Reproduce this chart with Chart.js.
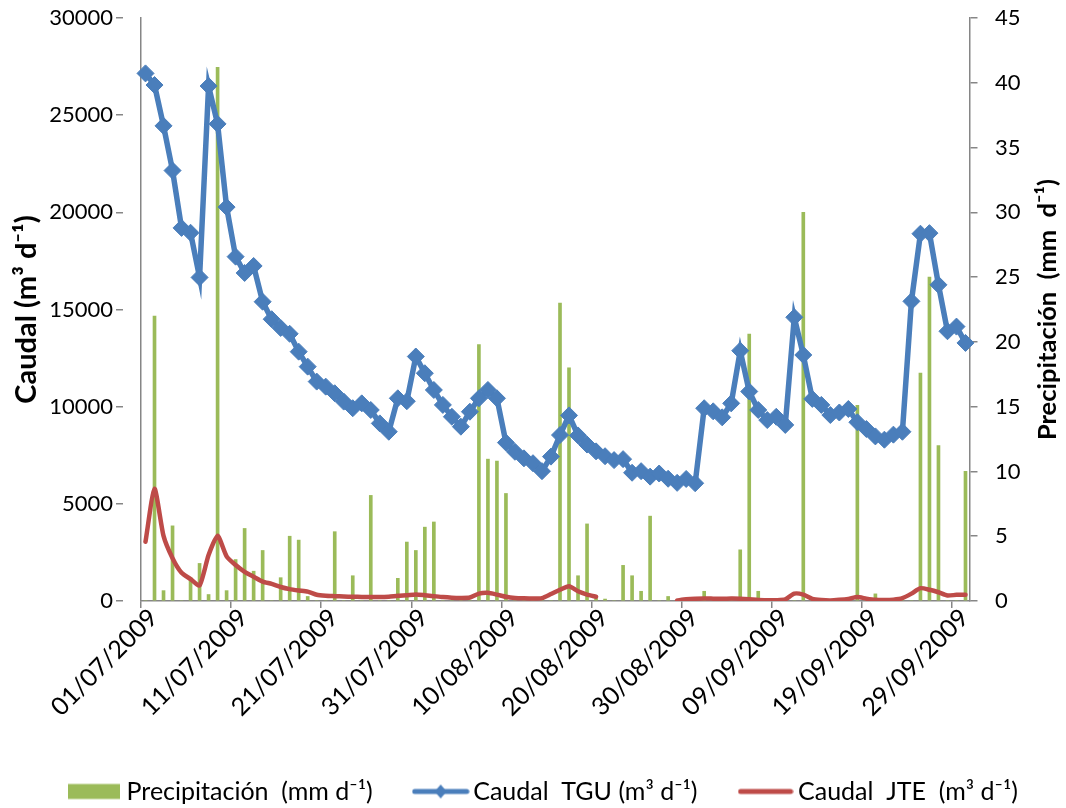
<!DOCTYPE html>
<html>
<head>
<meta charset="utf-8">
<script src="https://cdn.jsdelivr.net/npm/chart.js@4/dist/chart.umd.min.js"></script>
<style>
  html, body { margin: 0; padding: 0; background: #fff; }
  #wrap { width: 1066px; height: 808px; overflow: hidden; }
</style>
</head>
<body>
<div id="wrap"><canvas id="chart" width="1066" height="808"></canvas></div>
<script>
// Daily series, 01/07/2009 .. 30/09/2009
const firstDay = new Date(2009, 6, 1);
const lastDay = new Date(2009, 8, 30);
const days = [];
for (let d = new Date(firstDay); d <= lastDay; d.setDate(d.getDate() + 1)) {
  const dd = String(d.getDate()).padStart(2, '0');
  const mm = String(d.getMonth() + 1).padStart(2, '0');
  days.push(dd + '/' + mm + '/' + d.getFullYear());
}

// Dates that carry a label on the time axis
const xTickLabels = ['01/07/2009', '11/07/2009', '21/07/2009', '31/07/2009', '10/08/2009',
  '20/08/2009', '30/08/2009', '09/09/2009', '19/09/2009', '29/09/2009'];

// Precipitación (mm d-1)
const precipitacion = [
  0, 22.0, 0.8, 5.8, 0, 1.8, 2.9, 0.5, 41.2, 0.8,
  3.2, 5.6, 2.3, 3.9, 0, 1.8, 5.0, 4.7, 0.35, 0,
  0, 5.35, 0, 1.95, 0, 8.15, 0, 0, 1.75, 4.55,
  3.9, 5.7, 6.1, 0, 0, 0, 0, 19.8, 10.95, 10.8,
  8.3, 0, 0, 0, 0, 0, 23.0, 18.0, 1.95, 5.95,
  0.2, 0.15, 0, 2.75, 1.95, 0.75, 6.55, 0, 0.35, 0,
  0, 0, 0.75, 0, 0, 0, 3.95, 20.6, 0.75, 0,
  0, 0, 0, 30.0, 0, 0, 0, 0, 0, 15.1,
  0, 0.55, 0, 0, 0, 0, 17.6, 25.0, 12.0, 0,
  0, 10.0
];

// Caudal TGU (m3 d-1)
const caudalTGU = [
  27150, 26550, 24450, 22150, 19200, 18950, 16650, 26500, 24550, 20270,
  17720, 16880, 17240, 15400, 14500, 14050, 13750, 12830, 12060, 11290,
  11030, 10690, 10260, 9920, 10170, 9830, 9140, 8710, 10430, 10280,
  12580, 11720, 10860, 10090, 9480, 8970, 9740, 10430, 10860, 10430,
  8150, 7680, 7340, 7090, 6680, 7430, 8540, 9550, 8520, 8050,
  7700, 7450, 7250, 7300, 6600, 6680, 6400, 6560, 6290, 6080,
  6280, 6060, 9920, 9760, 9450, 10170, 12880, 10780, 9830, 9310,
  9480, 9060, 14600, 12660, 10400, 10090, 9570, 9700, 9880, 9200,
  8850, 8470, 8300, 8560, 8710, 15420, 18900, 18930, 16270, 13880,
  14120, 13280
];

// Caudal JTE (m3 d-1); null = no record
const caudalJTE = [
  3050, 5780, 3350, 2200, 1450, 1130, 800, 2370, 3360, 2300,
  1850, 1500, 1250, 1000, 880, 720, 610, 540, 480, 320,
  270, 250, 230, 220, 210, 210, 200, 220, 270, 300,
  340, 300, 250, 200, 170, 160, 180, 380, 420, 330,
  220, 160, 140, 130, 150, 360, 580, 760, 500, 330,
  220, null, null, null, null, null, null, null, null, 30,
  90, 120, 130, 120, 110, 130, 120, 90, 50, 40,
  40, 80, 380, 330, 110, 50, 30, 60, 110, 200,
  120, 60, 50, 70, 150, 380, 660, 580, 450, 280,
  320, 320
];

const seriesNames = ['Precipitación  (mm d⁻¹)', 'Caudal  TGU (m³ d⁻¹)', 'Caudal  JTE  (m³ d⁻¹)'];
const leftTitle = 'Caudal (m³ d⁻¹)';
const rightTitle = 'Precipitación  (mm  d⁻¹)';

const GREEN = '#9BBB59';
const BLUE = '#4A7EBB';
const RED = '#BE4B48';
const GREY = '#868686';
const FONT = 'Lato';

Chart.defaults.font.family = FONT;
Chart.defaults.color = '#000';

// Small legend swatches drawn like the series they stand for
function swatch(w, h, paint) {
  const c = document.createElement('canvas');
  c.width = w; c.height = h;
  paint(c.getContext('2d'), w, h);
  return c;
}
const swatchBar = swatch(52, 22, (g, w, h) => {
  g.fillStyle = GREEN;
  g.fillRect(0, (h - 15) / 2, w, 15);
});
const swatchTGU = swatch(58, 22, (g, w, h) => {
  g.strokeStyle = BLUE; g.lineWidth = 5; g.lineCap = 'round';
  g.beginPath(); g.moveTo(3, h / 2); g.lineTo(w - 3, h / 2); g.stroke();
  g.fillStyle = BLUE;
  g.beginPath();
  g.moveTo(w / 2, h / 2 - 7); g.lineTo(w / 2 + 6, h / 2); g.lineTo(w / 2, h / 2 + 7); g.lineTo(w / 2 - 6, h / 2);
  g.closePath(); g.fill();
});
const swatchJTE = swatch(56, 22, (g, w, h) => {
  g.strokeStyle = RED; g.lineWidth = 5; g.lineCap = 'round';
  g.beginPath(); g.moveTo(3, h / 2); g.lineTo(w - 3, h / 2); g.stroke();
});
const swatches = [swatchBar, swatchTGU, swatchJTE];

// Axis titles, both reading bottom to top
const axisTitles = {
  id: 'axisTitles',
  afterDraw(chart) {
    const { ctx, chartArea } = chart;
    const cy = (chartArea.top + chartArea.bottom) / 2;
    [[27, leftTitle, 29], [1048, rightTitle, 25.5]].forEach(([x, text, size]) => {
      ctx.save();
      ctx.font = 'bold ' + size + 'px ' + FONT;
      ctx.fillStyle = '#000';
      ctx.textAlign = 'center';
      ctx.textBaseline = 'middle';
      ctx.translate(x, cy);
      ctx.rotate(-Math.PI / 2);
      ctx.fillText(text, 0, 0);
      ctx.restore();
    });
  }
};

// Value-axis tick marks: a short visible dash next to the axis line,
// the rest of the tick length only spaces the labels away
const valueAxisGrid = {
  drawOnChartArea: false,
  drawTicks: true,
  tickLength: 25,
  tickBorderDash: [7, 60],
  color: GREY,
  lineWidth: 1.5
};

new Chart(document.getElementById('chart'), {
  type: 'bar',
  data: {
    labels: days,
    datasets: [
      {
        type: 'bar',
        label: seriesNames[0],
        data: precipitacion,
        yAxisID: 'y1',
        backgroundColor: GREEN,
        barThickness: 3,
        order: 3
      },
      {
        type: 'line',
        label: seriesNames[1],
        data: caudalTGU,
        yAxisID: 'y',
        borderColor: BLUE,
        borderWidth: 5.5,
        pointStyle: 'rectRot',
        pointRadius: 8.5,
        pointBackgroundColor: BLUE,
        pointBorderColor: BLUE,
        pointBorderWidth: 1,
        tension: 0,
        order: 1
      },
      {
        type: 'line',
        label: seriesNames[2],
        data: caudalJTE,
        yAxisID: 'y',
        borderColor: RED,
        borderWidth: 4.5,
        borderCapStyle: 'round',
        pointRadius: 0,
        tension: 0.2,
        spanGaps: false,
        order: 2
      }
    ]
  },
  options: {
    responsive: false,
    animation: false,
    devicePixelRatio: 1,
    layout: { padding: { left: 12, right: -14, top: 18, bottom: -6 } },
    plugins: {
      tooltip: { enabled: false },
      legend: {
        position: 'bottom',
        labels: {
          usePointStyle: true,
          pointStyleWidth: 40,
          padding: 48,
          color: '#000',
          font: { size: 25 },
          generateLabels: (chart) => chart.data.datasets.map((ds, i) => ({
            text: ds.label,
            pointStyle: swatches[i],
            fillStyle: 'rgba(0,0,0,0)',
            strokeStyle: 'rgba(0,0,0,0)',
            lineWidth: 0,
            fontColor: '#000',
            hidden: false,
            datasetIndex: i
          }))
        }
      }
    },
    scales: {
      x: {
        type: 'category',
        offset: true,
        grid: {
          offset: true,
          drawOnChartArea: false,
          drawTicks: true,
          tickLength: 7,
          lineWidth: 1.5,
          color: (c) => (c.index % 10 === 0 && c.index < days.length) ? GREY : 'rgba(0,0,0,0)'
        },
        border: { color: GREY, width: 1.5 },
        ticks: {
          autoSkip: false,
          maxRotation: 45,
          minRotation: 45,
          padding: -5,
          labelOffset: 8,
          font: { size: 25 },
          color: '#000',
          callback: (v, i) => xTickLabels.includes(days[i]) ? days[i] : ''
        },
        afterFit: (s) => { s.height = 130; }
      },
      y: {
        position: 'left',
        min: 0,
        max: 30000,
        grid: valueAxisGrid,
        border: { color: GREY, width: 1.5 },
        ticks: {
          stepSize: 5000,
          padding: 3,
          font: { size: 22 },
          color: '#000',
          callback: (v) => String(v)
        },
        afterFit: (s) => { s.width = 141 - 12; }
      },
      y1: {
        position: 'right',
        min: 0,
        max: 45,
        grid: valueAxisGrid,
        border: { color: GREY, width: 1.5 },
        ticks: {
          stepSize: 5,
          padding: 0,
          font: { size: 22 },
          color: '#000',
          callback: (v) => String(v)
        },
        afterFit: (s) => { s.width = 1080 - 970; }
      }
    }
  },
  plugins: [axisTitles]
});
</script>
</body>
</html>
